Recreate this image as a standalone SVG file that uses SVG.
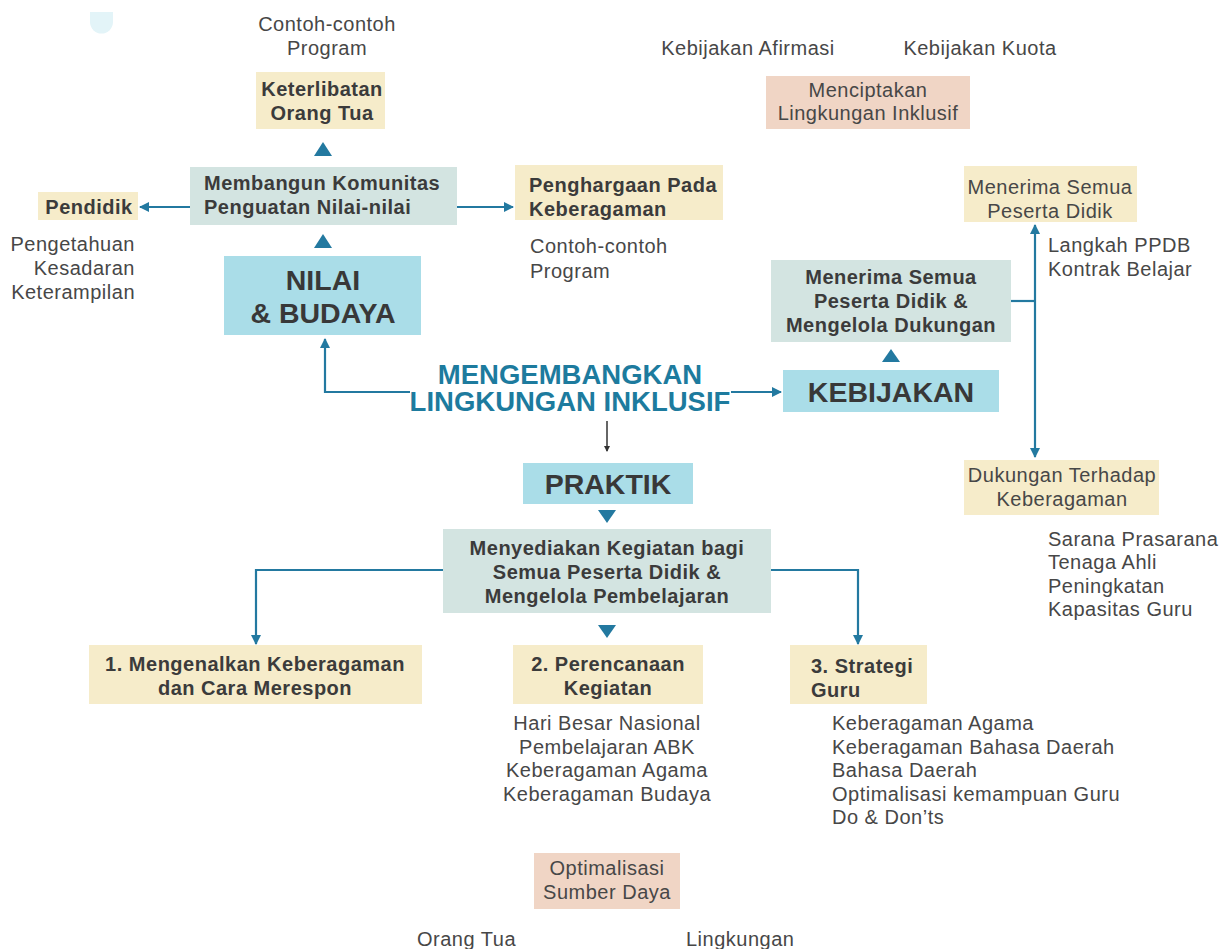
<svg xmlns="http://www.w3.org/2000/svg" width="1227" height="949" viewBox="0 0 1227 949">
<defs>
<style>
.cream{fill:#f6ecca}
.teal{fill:#d3e4e1}
.cyan{fill:#aadde8}
.peach{fill:#f0d5c5}
.b{font-family:"Liberation Sans",Arial,sans-serif;font-weight:bold;font-size:20px;letter-spacing:0.5px;fill:#3b3b3b}
.r{font-family:"Liberation Sans",Arial,sans-serif;font-size:20px;letter-spacing:0.5px;fill:#474747}
.big{font-family:"Liberation Sans",Arial,sans-serif;font-weight:bold;font-size:28.5px;fill:#383838}
.title{font-family:"Liberation Sans",Arial,sans-serif;font-weight:bold;font-size:27.5px;fill:#1d7b9e}
.c{text-anchor:middle}
.e{text-anchor:end}
.ln{fill:none;stroke:#2379a0;stroke-width:2.2}
.tri{fill:#2379a0}
</style>
<marker id="ah" markerWidth="10" markerHeight="10" refX="9" refY="5" orient="auto" markerUnits="userSpaceOnUse" viewBox="0 0 10 10">
<path d="M0,0 L10,5 L0,10 z" fill="#2379a0"/>
</marker>
<marker id="ahs" markerWidth="6" markerHeight="6" refX="5" refY="3" orient="auto" markerUnits="userSpaceOnUse" viewBox="0 0 6 6">
<path d="M0,0 L6,3 L0,6 z" fill="#333"/>
</marker>
</defs>
<rect width="1227" height="949" fill="#ffffff"/>
<path d="M90 12 h23 v10 a11.5 11.5 0 0 1 -23 0 z" fill="#e3f4f8"/>

<g id="connectors">
<path class="ln" d="M190 207 H140" marker-end="url(#ah)"/>
<path class="ln" d="M457 207 H513" marker-end="url(#ah)"/>
<path class="ln" d="M410 392 H325 V339" marker-end="url(#ah)"/>
<path class="ln" d="M731 392 H781" marker-end="url(#ah)"/>
<path d="M607 421 V451" stroke="#333" stroke-width="1.5" fill="none" marker-end="url(#ahs)"/>
<path class="ln" d="M1011 301 H1035"/>
<path class="ln" d="M1035 301 V225" marker-end="url(#ah)"/>
<path class="ln" d="M1035 301 V457" marker-end="url(#ah)"/>
<path class="ln" d="M443 570 H256 V644" marker-end="url(#ah)"/>
<path class="ln" d="M771 570 H858 V644" marker-end="url(#ah)"/>
<path class="tri" d="M314 156 L323 142 L332 156 z"/>
<path class="tri" d="M314 248 L323 234 L332 248 z"/>
<path class="tri" d="M882 362 L891 349 L900 362 z"/>
<path class="tri" d="M598 510 L616 510 L607 523 z"/>
<path class="tri" d="M598 625 L616 625 L607 638 z"/>
</g>

<g id="contoh-top"><text class="r c" x="327" y="31">Contoh-contoh</text><text class="r c" x="327" y="55">Program</text></g>

<g id="keterlibatan"><rect class="cream" x="256" y="72" width="129" height="57"/><text class="b c" x="322" y="96">Keterlibatan</text><text class="b c" x="322" y="120">Orang Tua</text></g>

<g id="membangun"><rect class="teal" x="190" y="167" width="267" height="58"/><text class="b" x="204" y="190">Membangun Komunitas</text><text class="b" x="204" y="214">Penguatan Nilai-nilai</text></g>

<g id="pendidik"><rect class="cream" x="38" y="192" width="100" height="28"/><text class="b c" x="89" y="214">Pendidik</text></g>

<g id="pendidik-list"><text class="r e" x="135" y="251">Pengetahuan</text><text class="r e" x="135" y="275">Kesadaran</text><text class="r e" x="135" y="299">Keterampilan</text></g>

<g id="nilai"><rect class="cyan" x="224" y="256" width="197" height="79"/><text class="big c" x="323" y="290">NILAI</text><text class="big c" x="323" y="323">&amp; BUDAYA</text></g>

<g id="penghargaan"><rect class="cream" x="515" y="165" width="208" height="55"/><text class="b" x="529" y="192">Penghargaan Pada</text><text class="b" x="529" y="216">Keberagaman</text></g>

<g id="contoh-right"><text class="r" x="530" y="253">Contoh-contoh</text><text class="r" x="530" y="278">Program</text></g>

<g id="afirmasi"><text class="r c" x="748" y="55">Kebijakan Afirmasi</text></g>
<g id="kuota"><text class="r c" x="980" y="55">Kebijakan Kuota</text></g>

<g id="menciptakan"><rect class="peach" x="766" y="76" width="204" height="53"/><text class="r c" x="868" y="97">Menciptakan</text><text class="r c" x="868" y="120">Lingkungan Inklusif</text></g>

<g id="menerima-top"><rect class="cream" x="964" y="166" width="173" height="56"/><text class="r c" x="1050" y="194">Menerima Semua</text><text class="r c" x="1050" y="218">Peserta Didik</text></g>

<g id="ppdb"><text class="r" x="1048" y="252">Langkah PPDB</text><text class="r" x="1048" y="276">Kontrak Belajar</text></g>

<g id="menerima-dukungan"><rect class="teal" x="771" y="260" width="240" height="82"/><text class="b c" x="891" y="284">Menerima Semua</text><text class="b c" x="891" y="308">Peserta Didik &amp;</text><text class="b c" x="891" y="332">Mengelola Dukungan</text></g>

<g id="kebijakan"><rect class="cyan" x="783" y="370" width="216" height="42"/><text class="big c" x="891" y="402">KEBIJAKAN</text></g>

<g id="mengembangkan"><text class="title c"><tspan x="570" y="384">MENGEMBANGKAN</tspan><tspan x="570" y="411">LINGKUNGAN INKLUSIF</tspan></text></g>

<g id="praktik"><rect class="cyan" x="523" y="463" width="170" height="41"/><text class="big c" x="608" y="494">PRAKTIK</text></g>

<g id="menyediakan"><rect class="teal" x="443" y="529" width="328" height="84"/><text class="b c" x="607" y="555">Menyediakan Kegiatan bagi</text><text class="b c" x="607" y="579">Semua Peserta Didik &amp;</text><text class="b c" x="607" y="603">Mengelola Pembelajaran</text></g>

<g id="mengenalkan"><rect class="cream" x="89" y="645" width="333" height="59"/><text class="b c" x="255" y="671">1. Mengenalkan Keberagaman</text><text class="b c" x="255" y="695">dan Cara Merespon</text></g>

<g id="perencanaan"><rect class="cream" x="513" y="645" width="190" height="59"/><text class="b c" x="608" y="671">2. Perencanaan</text><text class="b c" x="608" y="695">Kegiatan</text></g>

<g id="strategi"><rect class="cream" x="790" y="645" width="137" height="59"/><text class="b" x="811" y="673">3. Strategi</text><text class="b" x="811" y="697">Guru</text></g>

<g id="perencanaan-list"><text class="r c" x="607" y="730">Hari Besar Nasional</text><text class="r c" x="607" y="754">Pembelajaran ABK</text><text class="r c" x="607" y="777">Keberagaman Agama</text><text class="r c" x="607" y="801">Keberagaman Budaya</text></g>

<g id="strategi-list"><text class="r" x="832" y="730">Keberagaman Agama</text><text class="r" x="832" y="754">Keberagaman Bahasa Daerah</text><text class="r" x="832" y="777">Bahasa Daerah</text><text class="r" x="832" y="801">Optimalisasi kemampuan Guru</text><text class="r" x="832" y="824">Do &amp; Don’ts</text></g>

<g id="dukungan"><rect class="cream" x="964" y="460" width="195" height="55"/><text class="r c" x="1062" y="482">Dukungan Terhadap</text><text class="r c" x="1062" y="506">Keberagaman</text></g>

<g id="sarana"><text class="r" x="1048" y="546">Sarana Prasarana</text><text class="r" x="1048" y="569">Tenaga Ahli</text><text class="r" x="1048" y="593">Peningkatan</text><text class="r" x="1048" y="616">Kapasitas Guru</text></g>

<g id="optimalisasi"><rect class="peach" x="534" y="853" width="146" height="56"/><text class="r c" x="607" y="875">Optimalisasi</text><text class="r c" x="607" y="899">Sumber Daya</text></g>

<g id="orangtua"><text class="r" x="417" y="946">Orang Tua</text></g>
<g id="lingkungan"><text class="r" x="686" y="946">Lingkungan</text></g>
</svg>
